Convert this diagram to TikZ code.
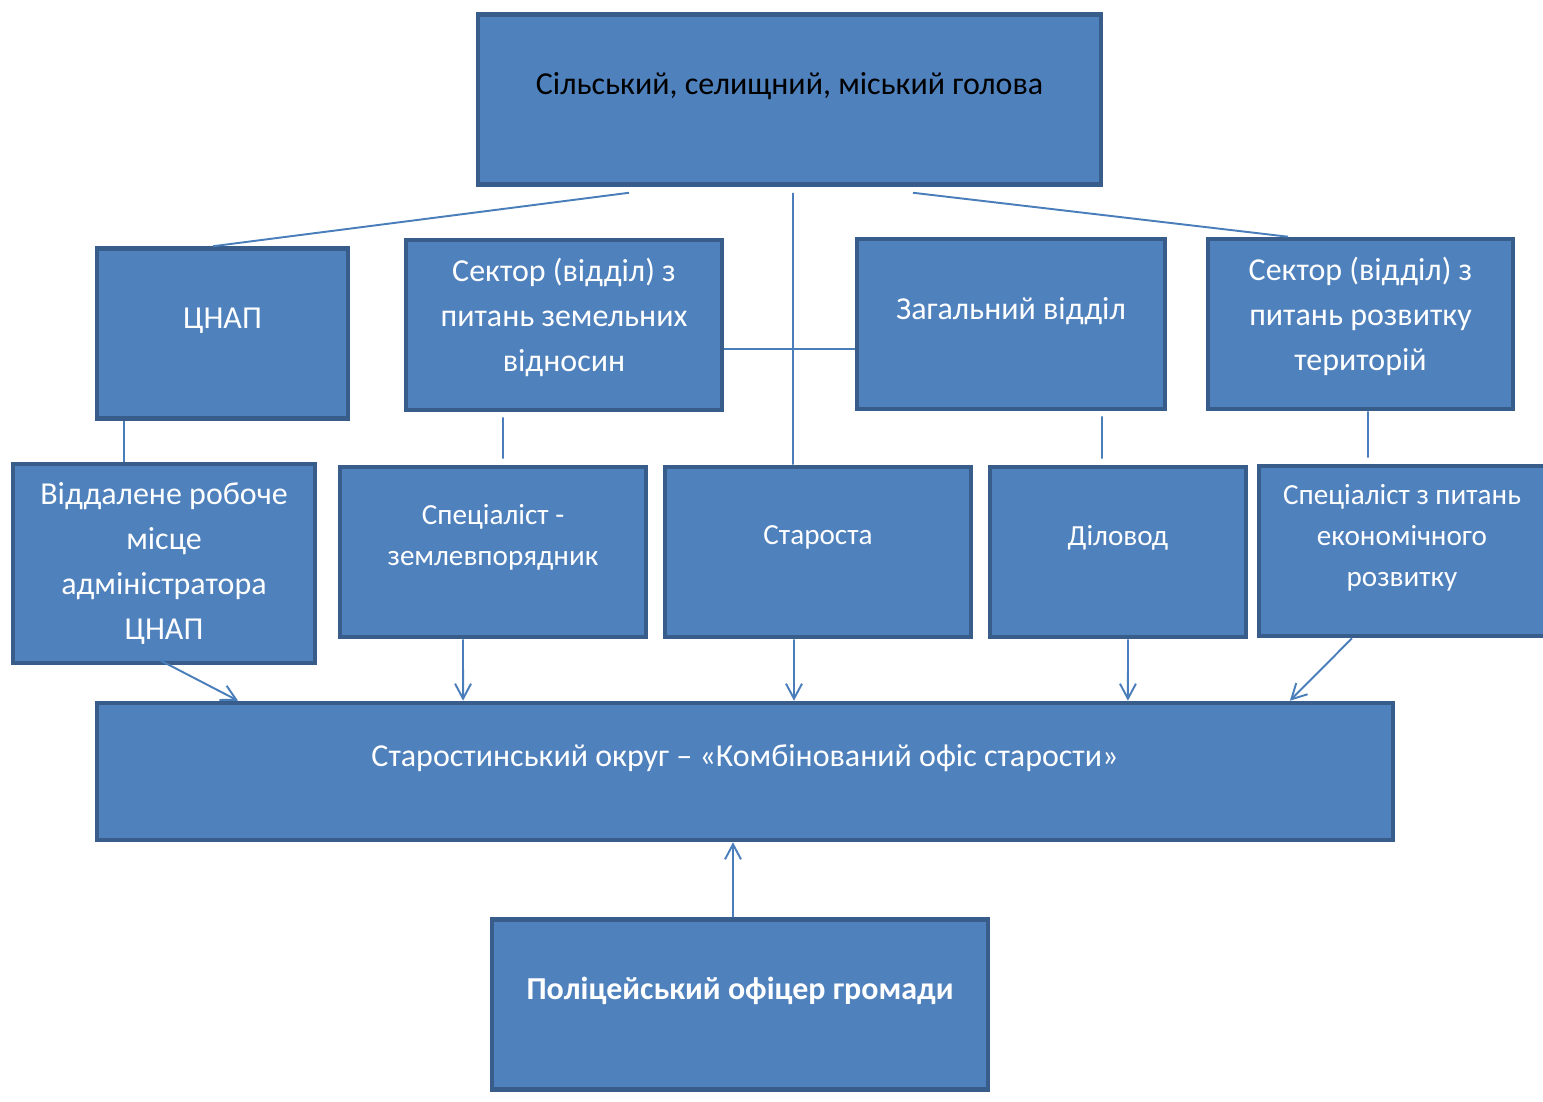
\documentclass[tikz,border=0pt]{standalone}
\usepackage{fontspec}
\setmainfont{Carlito}
\usetikzlibrary{arrows.meta, positioning, calc}
\definecolor{boxfill}{HTML}{4F81BD}
\definecolor{boxedge}{HTML}{385D8A}
\definecolor{linkcol}{HTML}{4A7EBB}
\tikzset{
    box/.style={
        draw=boxedge,
        fill=boxfill,
        line width=2.6pt,
        text=white,
        minimum height=3.4cm,
        align=center,
        inner sep=2pt,
        font=\fontsize{18.2}{25.5}\selectfont
    },
    midbox/.style={
        box,
        font=\fontsize{16.6}{23.2}\selectfont
    },
    lift/.style={text depth=#1},
    line/.style={draw=linkcol, line width=1.1pt},
    arrowline/.style={line, -{Straight Barb[length=3mm, width=3.2mm, line width=1.1pt]}}
}

\begin{document}
\begin{tikzpicture}[x=0.02cm, y=-0.02cm]
\useasboundingbox (0,0) rectangle (1543,1102);

% top level
\node[box, text=black, minimum width=12.46cm, lift=0.66cm] (head) at (789.5,99.5)
    {Сільський, селищний, міський голова};

% second row
\node[box, minimum width=5.02cm, lift=0.62cm] (cnap) at (222.5,333.5) {ЦНАП};
\node[box, minimum width=6.32cm, lift=0.42cm] (zemsec) at (564,325)
    {Сектор (відділ) з\\питань земельних\\відносин};
\node[box, minimum width=6.16cm, lift=0.62cm] (zahal) at (1011,324) {Загальний відділ};
\node[box, minimum width=6.1cm, lift=0.42cm] (rozsec) at (1360.5,324)
    {Сектор (відділ) з\\питань розвитку\\територій};

% third row
\node[box, minimum width=6.04cm, minimum height=3.98cm] (remote) at (164,563.5)
    {Віддалене робоче\\місце\\адміністратора\\ЦНАП};
\node[midbox, minimum width=6.12cm, lift=0.68cm] (zemspec) at (493,552)
    {Спеціаліст -\\землевпорядник};
\node[midbox, minimum width=6.12cm, lift=0.66cm] (starosta) at (818,552) {Староста};
\node[midbox, minimum width=5.12cm, lift=0.66cm] (dilovod) at (1118,552) {Діловод};
\node[midbox, minimum width=5.72cm, lift=0.62cm] (econspec) at (1402,551)
    {Спеціаліст з питань\\економічного\\розвитку};

% bottom
\node[box, minimum width=25.92cm, minimum height=2.74cm, lift=0.66cm] (okrug) at (745,771.5)
    {Старостинський округ – «Комбінований офіс старости»};
\node[box, font=\fontsize{18.2}{25.5}\selectfont\bfseries, minimum width=9.92cm, lift=0.66cm] (police) at (740,1004.5)
    {Поліцейський офіцер громади};

\draw[line] ([xshift=-3.21cm,yshift=-0.12cm]head.south) -- ([xshift=-0.19cm]cnap.north);
\draw[line] ([xshift=0.07cm,yshift=-0.12cm]head.south) -- ([xshift=-0.5cm]starosta.north);
\draw[line] ([xshift=2.47cm,yshift=-0.12cm]head.south) -- ([xshift=-1.45cm]rozsec.north);
\draw[line] ([yshift=-0.48cm]zemsec.east) -- ([yshift=-0.5cm]zahal.west);

\draw[line] ([xshift=-1.97cm]cnap.south) -- ([xshift=-1.97cm]cnap.south |- remote.north);
\draw[line] ([xshift=-1.22cm,yshift=-0.1cm]zemsec.south) -- ([xshift=0.2cm,yshift=0.12cm]zemspec.north);
\draw[line] ([xshift=1.82cm,yshift=-0.1cm]zahal.south) -- ([xshift=-0.32cm,yshift=0.12cm]dilovod.north);
\draw[line] ([xshift=0.15cm]rozsec.south) -- ([xshift=-0.68cm,yshift=0.12cm]econspec.north);

\draw[arrowline] ([xshift=-0.08cm,yshift=0.1cm]remote.south) -- ([xshift=-10.14cm]okrug.north);
\draw[arrowline] ([xshift=-0.6cm]zemspec.south) -- ([xshift=-5.64cm]okrug.north);
\draw[arrowline] ([xshift=-0.48cm]starosta.south) -- ([xshift=0.98cm]okrug.north);
\draw[arrowline] ([xshift=0.2cm]dilovod.south) -- ([xshift=7.66cm]okrug.north);
\draw[arrowline] ([xshift=-1.0cm]econspec.south) -- ([xshift=10.9cm]okrug.north);
\draw[arrowline] ([xshift=-0.14cm]police.north) -- ([xshift=-0.24cm]okrug.south);

\end{tikzpicture}
\end{document}
